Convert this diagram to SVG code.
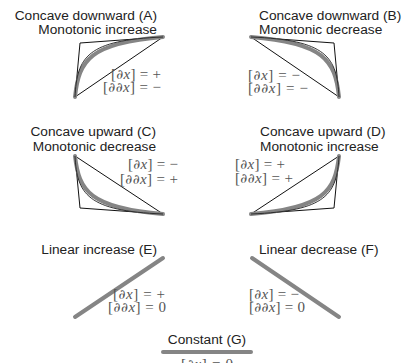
<svg xmlns="http://www.w3.org/2000/svg" width="417" height="363" viewBox="0 0 417 363">
<style>
.t{font-family:"Liberation Sans",Arial,sans-serif;font-size:13.7px;fill:#222}
.m{font-family:"Liberation Serif","DejaVu Serif","Times New Roman",serif;font-size:15px;fill:#555}
.d{font-family:"DejaVu Serif",serif;font-size:13.5px}
.i{font-style:italic}
.tri{fill:none;stroke:#111;stroke-width:1;stroke-linejoin:miter}
.g{fill:none;stroke:#858585;stroke-width:4;stroke-linecap:round}
.k{fill:none;stroke:#222;stroke-width:0.9}
</style>
<rect width="417" height="363" fill="#fff"/>
<g id="A">
<text class="t" x="157" y="19.5" text-anchor="end">Concave downward (A)</text>
<text class="t" x="157" y="34" text-anchor="end">Monotonic increase</text>
<polygon class="tri" points="75,97 80,43 163,37"/>
<path class="g" d="M75,97 C79,60 90,43 163,37"/>
<path class="k" d="M75,97 C77,57 87,40 163,37"/>
<text class="m" x="161" y="79" text-anchor="end" textLength="50">[<tspan class="d">∂</tspan><tspan class="i">x</tspan>] = +</text>
<text class="m" x="161" y="92" text-anchor="end" textLength="58">[<tspan class="d">∂∂</tspan><tspan class="i">x</tspan>] = −</text>
</g>
<g id="B">
<text class="t" x="259" y="19.5">Concave downward (B)</text>
<text class="t" x="259" y="34">Monotonic decrease</text>
<polygon class="tri" points="339,97 334,43 251,37"/>
<path class="g" d="M339,97 C335,60 324,43 251,37"/>
<path class="k" d="M339,97 C337,57 327,40 251,37"/>
<text class="m" x="248" y="80" textLength="52">[<tspan class="d">∂</tspan><tspan class="i">x</tspan>] = −</text>
<text class="m" x="248" y="93" textLength="60">[<tspan class="d">∂∂</tspan><tspan class="i">x</tspan>] = −</text>
</g>
<g id="C">
<text class="t" x="156" y="135.5" text-anchor="end">Concave upward (C)</text>
<text class="t" x="156" y="151" text-anchor="end">Monotonic decrease</text>
<polygon class="tri" points="75,156 80,208 163,214"/>
<path class="g" d="M75,156 C79,191 90,208 163,214"/>
<path class="k" d="M75,156 C77,194 87,211 163,214"/>
<text class="m" x="178" y="169" text-anchor="end" textLength="50">[<tspan class="d">∂</tspan><tspan class="i">x</tspan>] = −</text>
<text class="m" x="178" y="184" text-anchor="end" textLength="58">[<tspan class="d">∂∂</tspan><tspan class="i">x</tspan>] = +</text>
</g>
<g id="D">
<text class="t" x="260" y="135.5">Concave upward (D)</text>
<text class="t" x="260" y="151">Monotonic increase</text>
<polygon class="tri" points="339,156 334,208 251,214"/>
<path class="g" d="M339,156 C335,191 324,208 251,214"/>
<path class="k" d="M339,156 C337,194 327,211 251,214"/>
<text class="m" x="235" y="169" textLength="50">[<tspan class="d">∂</tspan><tspan class="i">x</tspan>] = +</text>
<text class="m" x="235" y="183" textLength="58">[<tspan class="d">∂∂</tspan><tspan class="i">x</tspan>] = +</text>
</g>
<g id="E">
<text class="t" x="157" y="254" text-anchor="end">Linear increase (E)</text>
<line class="g" x1="75" y1="317" x2="163" y2="258"/>
<text class="m" x="165" y="299" text-anchor="end" textLength="52">[<tspan class="d">∂</tspan><tspan class="i">x</tspan>] = +</text>
<text class="m" x="166" y="312" text-anchor="end" textLength="58">[<tspan class="d">∂∂</tspan><tspan class="i">x</tspan>] = 0</text>
</g>
<g id="F">
<text class="t" x="259" y="253.5">Linear decrease (F)</text>
<line class="g" x1="252" y1="258" x2="339" y2="317"/>
<text class="m" x="249" y="299" textLength="50">[<tspan class="d">∂</tspan><tspan class="i">x</tspan>] = −</text>
<text class="m" x="249" y="312" textLength="56">[<tspan class="d">∂∂</tspan><tspan class="i">x</tspan>] = 0</text>
</g>
<g id="G">
<text class="t" x="207" y="343.5" text-anchor="middle">Constant (G)</text>
<line class="g" x1="163" y1="352" x2="251" y2="352" stroke-linecap="butt"/>
<text class="m" x="207" y="369" text-anchor="middle" textLength="52">[<tspan class="d">∂</tspan><tspan class="i">x</tspan>] = 0</text>
</g>
</svg>
